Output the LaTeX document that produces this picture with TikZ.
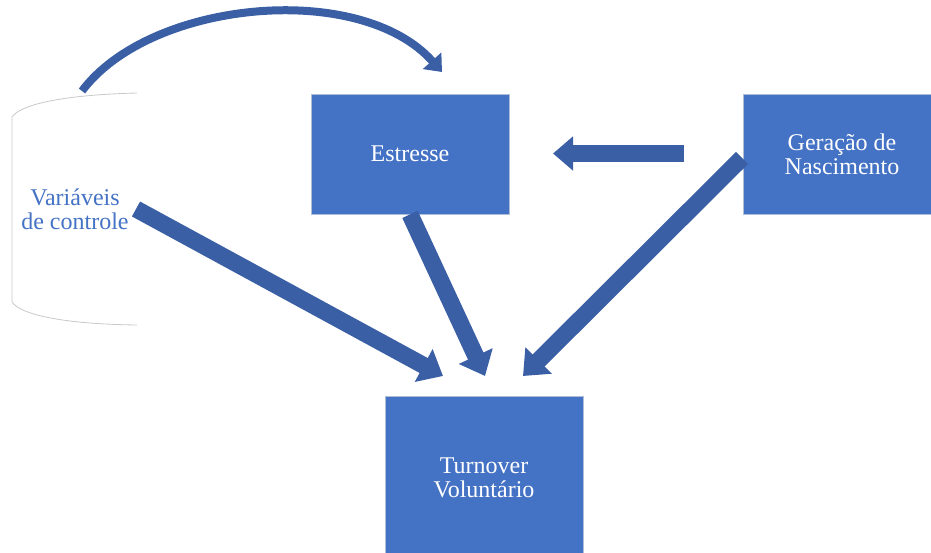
\documentclass[tikz,border=0pt]{standalone}
\usepackage{fontspec}
\setmainfont{Liberation Serif}
\usetikzlibrary{arrows.meta}

\definecolor{boxblue}{RGB}{68,114,196}
\definecolor{arrowblue}{RGB}{59,95,165}
\definecolor{boxline}{RGB}{175,190,215}
\definecolor{bracegray}{RGB}{200,200,200}

\begin{document}
\begin{tikzpicture}[x=1pt, y=-1pt,
  every node/.style={font=\fontsize{24}{24}\selectfont, align=center, inner sep=0pt},
  box/.style={draw=boxline, line width=0.8pt, fill=boxblue, text=white, minimum width=198pt, minimum height=120pt},
  fat/.style={arrowblue, line width=17pt, -{Triangle[width=36pt, length=22pt]}}]
\useasboundingbox (0,0) rectangle (931,553);
\clip (0,0) rectangle (931,553);

% Define nodes
\node[box] (estresse) at (410,154) {Estresse};
\node[box] (geracao) at (842,154) {Geração de\\Nascimento};
\node[box, minimum height=163pt] (turnover) at (484,477.5) {Turnover\\Voluntário};
\node[text=boxblue] (controle) at (75,209) {Variáveis\\de controle};

% bracket round the control variables
\draw[bracegray, line width=0.8pt] (137,93) .. controls (60,95) and (20,105) .. (12,117)
  -- (12,302) .. controls (20,314) and (60,324) .. (137,325);

% arrow ends
\coordinate (ctrlstart) at (82,91);
\coordinate (ctrlend) at (442,72);
\coordinate (ctrlout) at (136,209);
\coordinate (genout) at (742,158);
\coordinate (genleft) at (684,153.5);
\coordinate (stressin) at (553,153.5);
\coordinate (tipA) at (443,376);
\coordinate (tipB) at (485,376);
\coordinate (tipC) at (523,376);

\draw[arrowblue, line width=8pt, -{Triangle[width=24pt, length=15pt]}]
  (ctrlstart) .. controls (150,0) and (360,-20) .. (ctrlend);
\draw[fat, -{Triangle[width=33pt, length=20pt]}] (genleft) -- (stressin);
\draw[fat] (ctrlout) -- (tipA);
\draw[fat] (estresse.south) -- (tipB);
\draw[fat] (genout) -- (tipC);

\end{tikzpicture}
\end{document}
